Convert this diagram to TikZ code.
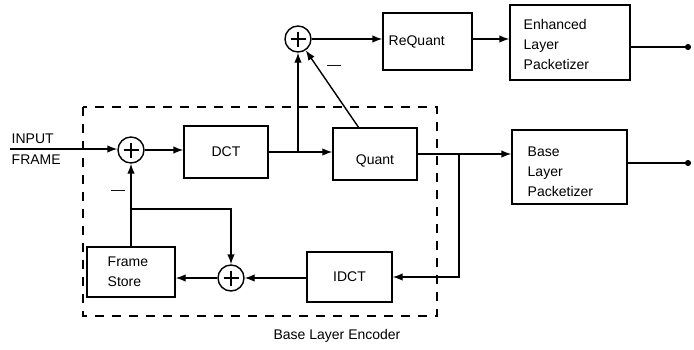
\documentclass[tikz,border=0pt]{standalone}
\usepackage{fontspec}
\setmainfont{Liberation Sans}
\usetikzlibrary{arrows.meta,calc}
\begin{document}
\begin{tikzpicture}[x=1pt,y=-1pt,
  font=\fontsize{14}{20}\selectfont,
  line width=1.4pt,
  blk/.style={draw,rectangle,inner sep=0pt},
  sumnode/.style={draw,circle,minimum size=26pt,inner sep=0pt,line width=1.4pt},
  arr/.style={-{Latex[length=10pt,width=7.5pt]}},
  outl/.style={-{Circle[length=6pt,width=6pt]}},
  lbl/.style={inner sep=0pt}]
\useasboundingbox (0,0) rectangle (694,349);
% blocks
\node[blk,minimum width=84pt,minimum height=52pt] (dct) at (226,152) {DCT};
\node[blk,minimum width=84pt,minimum height=52pt] (q) at (375,154) {};
\node[lbl] (qlabel) at (375,161) {Quant};
\node[blk,minimum width=89pt,minimum height=57pt] (rq) at (427.5,41.5) {};
\node[lbl,anchor=west] (rqlabel) at (388,42) {ReQuant};
\node[blk,minimum width=120pt,minimum height=75pt] (enh) at (570,42.5) {};
\node[lbl,anchor=west,align=left] (enhlabel) at (523,44) {Enhanced\\Layer\\Packetizer};
\node[blk,minimum width=115pt,minimum height=74pt] (base) at (569.5,167) {};
\node[lbl,anchor=west,align=left] (baselabel) at (527,172) {Base\\Layer\\Packetizer};
\node[blk,minimum width=85pt,minimum height=50pt] (idct) at (349.5,277) {IDCT};
\node[blk,minimum width=88pt,minimum height=50pt] (fs) at (131,272) {};
\node[lbl,anchor=west,align=left] (fslabel) at (107,272) {Frame\\Store};
% summing junctions
\node[sumnode] (s1) at (131,150) {};
\node[sumnode] (s2) at (298,39) {};
\node[sumnode] (s3) at (231,278) {};
\foreach \s in {s1,s2,s3}{
  \draw[line width=1.4pt] ($(\s.center)+(-7.5,0)$) -- ($(\s.center)+(7.5,0)$);
  \draw[line width=1.4pt] ($(\s.center)+(0,-7.5)$) -- ($(\s.center)+(0,7.5)$);
}
% texts
\node[lbl,anchor=west] (inp) at (11,139) {INPUT};
\node[lbl,anchor=west] (frm) at (11,160) {FRAME};
\node[lbl] (m1) at (118,192) {---};
\node[lbl] (m2) at (334,67) {---};
\node[lbl] (enc) at (337,336) {Base Layer Encoder};
% dashed encoder boundary
\draw[dash pattern=on 9pt off 8pt,line width=1.2pt] (83,107) rectangle (437,316);
% coordinates
\coordinate (in) at (10,149);
\coordinate (b1) at (298,152);
\coordinate (b2) at (459,154);
\coordinate (b3) at (131,209);
\coordinate (qt) at (359,128);
\coordinate (o1) at (691,47);
\coordinate (o2) at (691,163);
% connectors
\draw[arr] (in) -- (in -| s1.west);
\draw[arr] (s1.east) -- (s1.east -| dct.west);
\draw[arr] (b1 -| dct.east) -- (b1 -| q.west);
\draw[arr] (b1) -- (s2.south);
\draw[arr] (qt) -- (s2);
\draw[arr] (s2.east) -- (s2.east -| rq.west);
\draw[arr] (rq.east |- s2.east) -- (s2.east -| enh.west);
\draw[outl] (o1 -| enh.east) -- (o1);
\draw[arr] (q.east) -- (q.east -| base.west);
\draw[outl] (o2 -| base.east) -- (o2);
\draw[arr] (b2) |- (idct.east);
\draw[arr] (idct.west |- s3.east) -- (s3.east);
\draw[arr] (s3.west) -- (s3.west -| fs.east);
\draw[arr] (fs.north) -- (s1.south);
\draw[arr] (b3) -| (s3.north);
\end{tikzpicture}
\end{document}
